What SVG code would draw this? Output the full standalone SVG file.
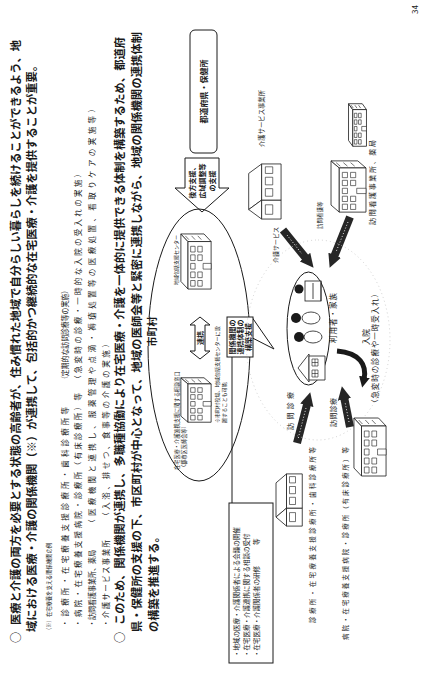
<svg xmlns="http://www.w3.org/2000/svg" width="422" height="675" viewBox="0 0 422 675">
  <style>
    .t { font-family: "Noto Sans CJK JP", "Noto Sans", sans-serif; fill: #1a1a1a; }
    .b { font-weight: 700; }
    .m { text-anchor: middle; }
    .ln { fill: none; stroke: #1a1a1a; stroke-width: 1; }
    .box { fill: #fff; stroke: #1a1a1a; stroke-width: 1; }
    .bld { fill: #fff; stroke: #1a1a1a; stroke-width: 0.8; vector-effect: non-scaling-stroke; }
    .win { fill: #fff; stroke: #1a1a1a; stroke-width: 0.6; vector-effect: non-scaling-stroke; }
    .dk { fill: none; stroke: #262626; stroke-width: 8; marker-end: url(#hd); }
    .dkt { fill: none; stroke: #e8e8e8; stroke-width: 1; stroke-dasharray: 1 2; }
    .faint { fill: none; stroke: #bdbdbd; stroke-width: 0.7; stroke-dasharray: 1 3; }
  </style>
  <defs>
    <marker id="hd" viewBox="0 0 10 10" refX="2" refY="5" markerWidth="1.7" markerHeight="1.7" orient="auto" markerUnits="strokeWidth">
      <path d="M0,0 L10,5 L0,10 z" fill="#262626"/>
    </marker>
    <marker id="hd2" viewBox="0 0 10 10" refX="2" refY="5" markerWidth="2.2" markerHeight="2.2" orient="auto" markerUnits="strokeWidth">
      <path d="M0,0 L10,5 L0,10 z" fill="#1a1a1a"/>
    </marker>
    <symbol id="office" viewBox="0 0 60 36" preserveAspectRatio="none">
      <path class="bld" d="M1 9 L9 1 L59 1 L51 9 Z"/>
      <path class="bld" d="M51 9 L59 1 L59 27 L51 35 Z"/>
      <rect class="bld" x="1" y="9" width="50" height="26"/>
      <rect class="win" x="4" y="12" width="6" height="5"/>
      <rect class="win" x="13" y="12" width="6" height="5"/>
      <rect class="win" x="22" y="12" width="6" height="5"/>
      <rect class="win" x="31" y="12" width="6" height="5"/>
      <rect class="win" x="40" y="12" width="6" height="5"/>
      <rect class="win" x="4" y="20" width="6" height="5"/>
      <rect class="win" x="13" y="20" width="6" height="5"/>
      <rect class="win" x="31" y="20" width="6" height="5"/>
      <rect class="win" x="40" y="20" width="6" height="5"/>
      <rect class="win" x="22" y="26" width="6" height="9"/>
      <path class="win" d="M53 10 L57 6 M53 17 L57 13 M53 24 L57 20"/>
    </symbol>
    <symbol id="house" viewBox="0 0 60 40" preserveAspectRatio="none">
      <path class="bld" d="M11 4 L49 4 L59 18 L21 18 Z"/>
      <path class="bld" d="M1 18 L11 4 L21 18 Z"/>
      <rect class="bld" x="1" y="18" width="20" height="21"/>
      <rect class="bld" x="21" y="18" width="38" height="21"/>
      <rect class="win" x="6" y="22" width="10" height="8"/>
      <rect class="win" x="25" y="22" width="8" height="8"/>
      <rect class="win" x="37" y="22" width="8" height="8"/>
      <rect class="win" x="49" y="22" width="7" height="8"/>
    </symbol>
  </defs>

  <rect width="422" height="675" fill="#fff"/>

  <!-- the page is laid out landscape and turned a quarter turn -->
  <g transform="translate(0,675) rotate(-90)">

    <!-- body text -->
    <g id="body-text" class="t">
      <text class="b" x="32" y="19.5" font-size="11">○</text>
      <text class="b" x="50" y="19.5" font-size="11.2" textLength="585" lengthAdjust="spacing">医療と介護の両方を必要とする状態の高齢者が、住み慣れた地域で自分らしい暮らしを続けることができるよう、地</text>
      <text class="b" x="43" y="36.3" font-size="11.2" textLength="572" lengthAdjust="spacing">域における医療・介護の関係機関（※）が連携して、包括的かつ継続的な在宅医療・介護を提供することが重要。</text>
      <text x="42" y="51" font-size="6" textLength="90" lengthAdjust="spacingAndGlyphs">（※）在宅療養を支える関係機関の例</text>
      <text x="48" y="67.9" font-size="7.5" textLength="220" lengthAdjust="spacing">・診療所・在宅療養支援診療所・歯科診療所等</text>
      <text x="292" y="67.9" font-size="7.5" textLength="96" lengthAdjust="spacingAndGlyphs">（定期的な訪問診療等の実施）</text>
      <text x="48" y="81.4" font-size="7.5" textLength="234" lengthAdjust="spacing">・病院・在宅療養支援病院・診療所（有床診療所）等</text>
      <text x="292" y="81.4" font-size="7.5" textLength="213" lengthAdjust="spacing">（急変時の診療・一時的な入院の受入れの実施）</text>
      <text x="48" y="94.9" font-size="7.5" textLength="77" lengthAdjust="spacingAndGlyphs">・訪問看護事業所、薬局</text>
      <text x="148" y="94.9" font-size="7.5" textLength="422" lengthAdjust="spacing">（医療機関と連携し、服薬管理や点滴・褥瘡処置等の医療処置、看取りケアの実施等）</text>
      <text x="48" y="108.9" font-size="7.5" textLength="87" lengthAdjust="spacing">・介護サービス事業所</text>
      <text x="155" y="108.9" font-size="7.5" textLength="180" lengthAdjust="spacing">（入浴、排せつ、食事等の介護の実施）</text>
      <text class="b" x="32" y="124.3" font-size="11">○</text>
      <text class="b" x="50" y="124.3" font-size="11.2" textLength="588" lengthAdjust="spacing">このため、関係機関が連携し、多職種協働により在宅医療・介護を一体的に提供できる体制を構築するため、都道府</text>
      <text class="b" x="43" y="141.3" font-size="11.2" textLength="600" lengthAdjust="spacing">県・保健所の支援の下、市区町村が中心となって、地域の医師会等と緊密に連携しながら、地域の関係機関の連携体制</text>
      <text class="b" x="43" y="158.3" font-size="11.2">の構築を推進する。</text>
      <text x="670" y="418" font-size="8" text-anchor="end">34</text>
    </g>

    <!-- connectors -->
    <g id="connectors">
      <path class="ln" d="M172 232 L318 232"/>
      <path class="box" d="M517 185 L487 185 L487 175 L463 202 L487 229 L487 219 L517 219 Z"/>
      <path class="box" d="M316 200 L324 190 L324 195 L350 195 L350 190 L358 200 L350 210 L350 205 L324 205 L324 210 Z"/>
      <path class="dk" d="M445 283 L415.8 306.7"/>
      <path class="dkt" d="M440 287 L421 302"/>
      <path class="dk" d="M458 350 L417.3 333.7"/>
      <path class="dkt" d="M453 348 L423 336"/>
      <path class="dk" d="M232 297 L272.3 307.5"/>
      <path class="dkt" d="M237 298.3 L267 306"/>
      <path class="dk" d="M248 350 L278.2 344"/>
      <path class="dkt" d="M253 349 L273 345"/>
      <path d="M324 337 C322 360 310 367 296 364" fill="none" stroke="#1a1a1a" stroke-width="5" marker-end="url(#hd2)"/>
      <path class="box" d="M357 252.5 L326 274 L337 252.5 Z"/>
    </g>

    <!-- prefecture -->
    <g id="prefecture" class="t">
      <rect class="box" x="522" y="190" width="123" height="27" rx="5"/>
      <text class="b m" x="583.5" y="206.5" font-size="8">都道府県・保健所</text>
      <text class="b m" x="494" y="194.7" font-size="7">後方支援、</text>
      <text class="b m" x="494" y="204.7" font-size="7">広域調整等</text>
      <text class="b m" x="494" y="214.7" font-size="7">の支援</text>
    </g>

    <!-- municipality -->
    <g id="municipality" class="t">
      <ellipse class="ln" cx="330" cy="199" rx="136" ry="51"/>
      <rect x="329" y="146" width="29" height="11" fill="#fff"/>
      <text class="b m" x="343.5" y="155.8" font-size="10">市町村</text>
      <text class="b m" x="337" y="202.5" font-size="7">連携</text>
    </g>

    <g id="support-center" class="t">
      <use href="#office" x="385" y="180" width="57" height="32"/>
      <text class="m" x="415" y="178" font-size="5">地域包括支援センター</text>
    </g>

    <g id="consult-desk" class="t">
      <use href="#office" x="252" y="180" width="46" height="32"/>
      <text x="205" y="179" font-size="5.2">在宅医療・介護連携支援に関する相談窓口</text>
      <text x="205" y="186" font-size="5.2">（郡市区医師会等）</text>
      <text x="252" y="219" font-size="5.1">※市町村役場、地域包括支援センターに設</text>
      <text x="252" y="226" font-size="5.1">置することも可能</text>
    </g>

    <g id="callout" class="t">
      <rect x="318" y="227" width="40" height="26" fill="#fff" stroke="#1a1a1a" stroke-width="1"/>
      <text class="b m" x="338" y="234.7" font-size="7">関係機関の</text>
      <text class="b m" x="338" y="242.7" font-size="7">連携体制の</text>
      <text class="b m" x="338" y="250.7" font-size="7">構築支援</text>
    </g>

    <g id="activity-list" class="t">
      <rect class="box" x="12" y="229" width="160" height="44"/>
      <text x="18" y="239.3" font-size="6.5">・地域の医療・介護関係者による会議の開催</text>
      <text x="18" y="249.3" font-size="6.5">・在宅医療・介護連携に関する相談の受付</text>
      <text x="18" y="259.3" font-size="6.5">・在宅医療・介護関係者の研修</text>
      <text x="130" y="259.3" font-size="6.5">等</text>
    </g>

    <!-- home of the user and family -->
    <g id="home" class="t">
      <ellipse class="faint" cx="335" cy="318" rx="100" ry="72"/>
      <ellipse class="ln" cx="346.5" cy="308.5" rx="56.5" ry="21.5"/>
      <path class="bld" d="M293 309 L307 298 L321 309 Z"/>
      <rect class="bld" x="295" y="309" width="24" height="16"/>
      <rect class="win" x="298" y="312" width="7" height="6"/>
      <rect class="win" x="309" y="312" width="7" height="6"/>
      <path class="win" d="M301.5 312 V318 M298 315 H305 M312.5 312 V318 M309 315 H316"/>
      <ellipse cx="338" cy="313" rx="6" ry="9" fill="#fff" stroke="#1a1a1a" stroke-width="0.8"/>
      <circle cx="338" cy="299" r="5" fill="#1a1a1a"/>
      <ellipse cx="357" cy="311" rx="6" ry="9" fill="#fff" stroke="#1a1a1a" stroke-width="0.8"/>
      <circle cx="357" cy="296" r="5" fill="#1a1a1a"/>
      <rect x="374" y="305" width="20" height="16" fill="#fff" stroke="#1a1a1a" stroke-width="0.8"/>
      <circle cx="386" cy="299" r="4.5" fill="#1a1a1a"/>
      <path d="M374 321 L394 321 M376 313 L392 313" stroke="#1a1a1a" stroke-width="0.8"/>
      <text x="332" y="335.9" font-size="7.5" textLength="50" lengthAdjust="spacing">利用者・家族</text>
    </g>

    <g id="care-office" class="t">
      <use href="#house" x="455" y="245" width="57" height="37"/>
      <text x="528" y="264.3" font-size="6.3" textLength="57" lengthAdjust="spacing">介護サービス事業所</text>
      <text x="412" y="278.3" font-size="6">介護サービス</text>
    </g>

    <g id="nursing-station" class="t">
      <use href="#office" x="462" y="330" width="53" height="37"/>
      <use href="#office" x="528" y="348" width="44" height="19"/>
      <text x="450" y="374.6" font-size="7" textLength="85" lengthAdjust="spacing">訪問看護事業所、薬局</text>
      <text x="446" y="322" font-size="5.5">訪問看護等</text>
    </g>

    <g id="hospital" class="t">
      <use href="#office" x="198" y="353" width="60" height="34"/>
      <text x="35" y="347.5" font-size="6.5" textLength="193" lengthAdjust="spacing">病院・在宅療養支援病院・診療所（有床診療所）等</text>
      <text x="248" y="335.7" font-size="7" textLength="29" lengthAdjust="spacing">訪問診療</text>
      <text x="330" y="368.8" font-size="8">入院</text>
      <text x="268" y="378" font-size="7.5" textLength="117" lengthAdjust="spacing">（急変時の診療や一時受入れ）</text>
    </g>

    <g id="clinic" class="t">
      <use href="#house" x="148" y="273" width="54" height="30"/>
      <text x="52" y="314.5" font-size="6.5" textLength="176" lengthAdjust="spacing">診療所・在宅療養支援診療所・歯科診療所等</text>
      <text x="245" y="292.7" font-size="7" textLength="38" lengthAdjust="spacing">訪問診療</text>
    </g>
  </g>
</svg>
